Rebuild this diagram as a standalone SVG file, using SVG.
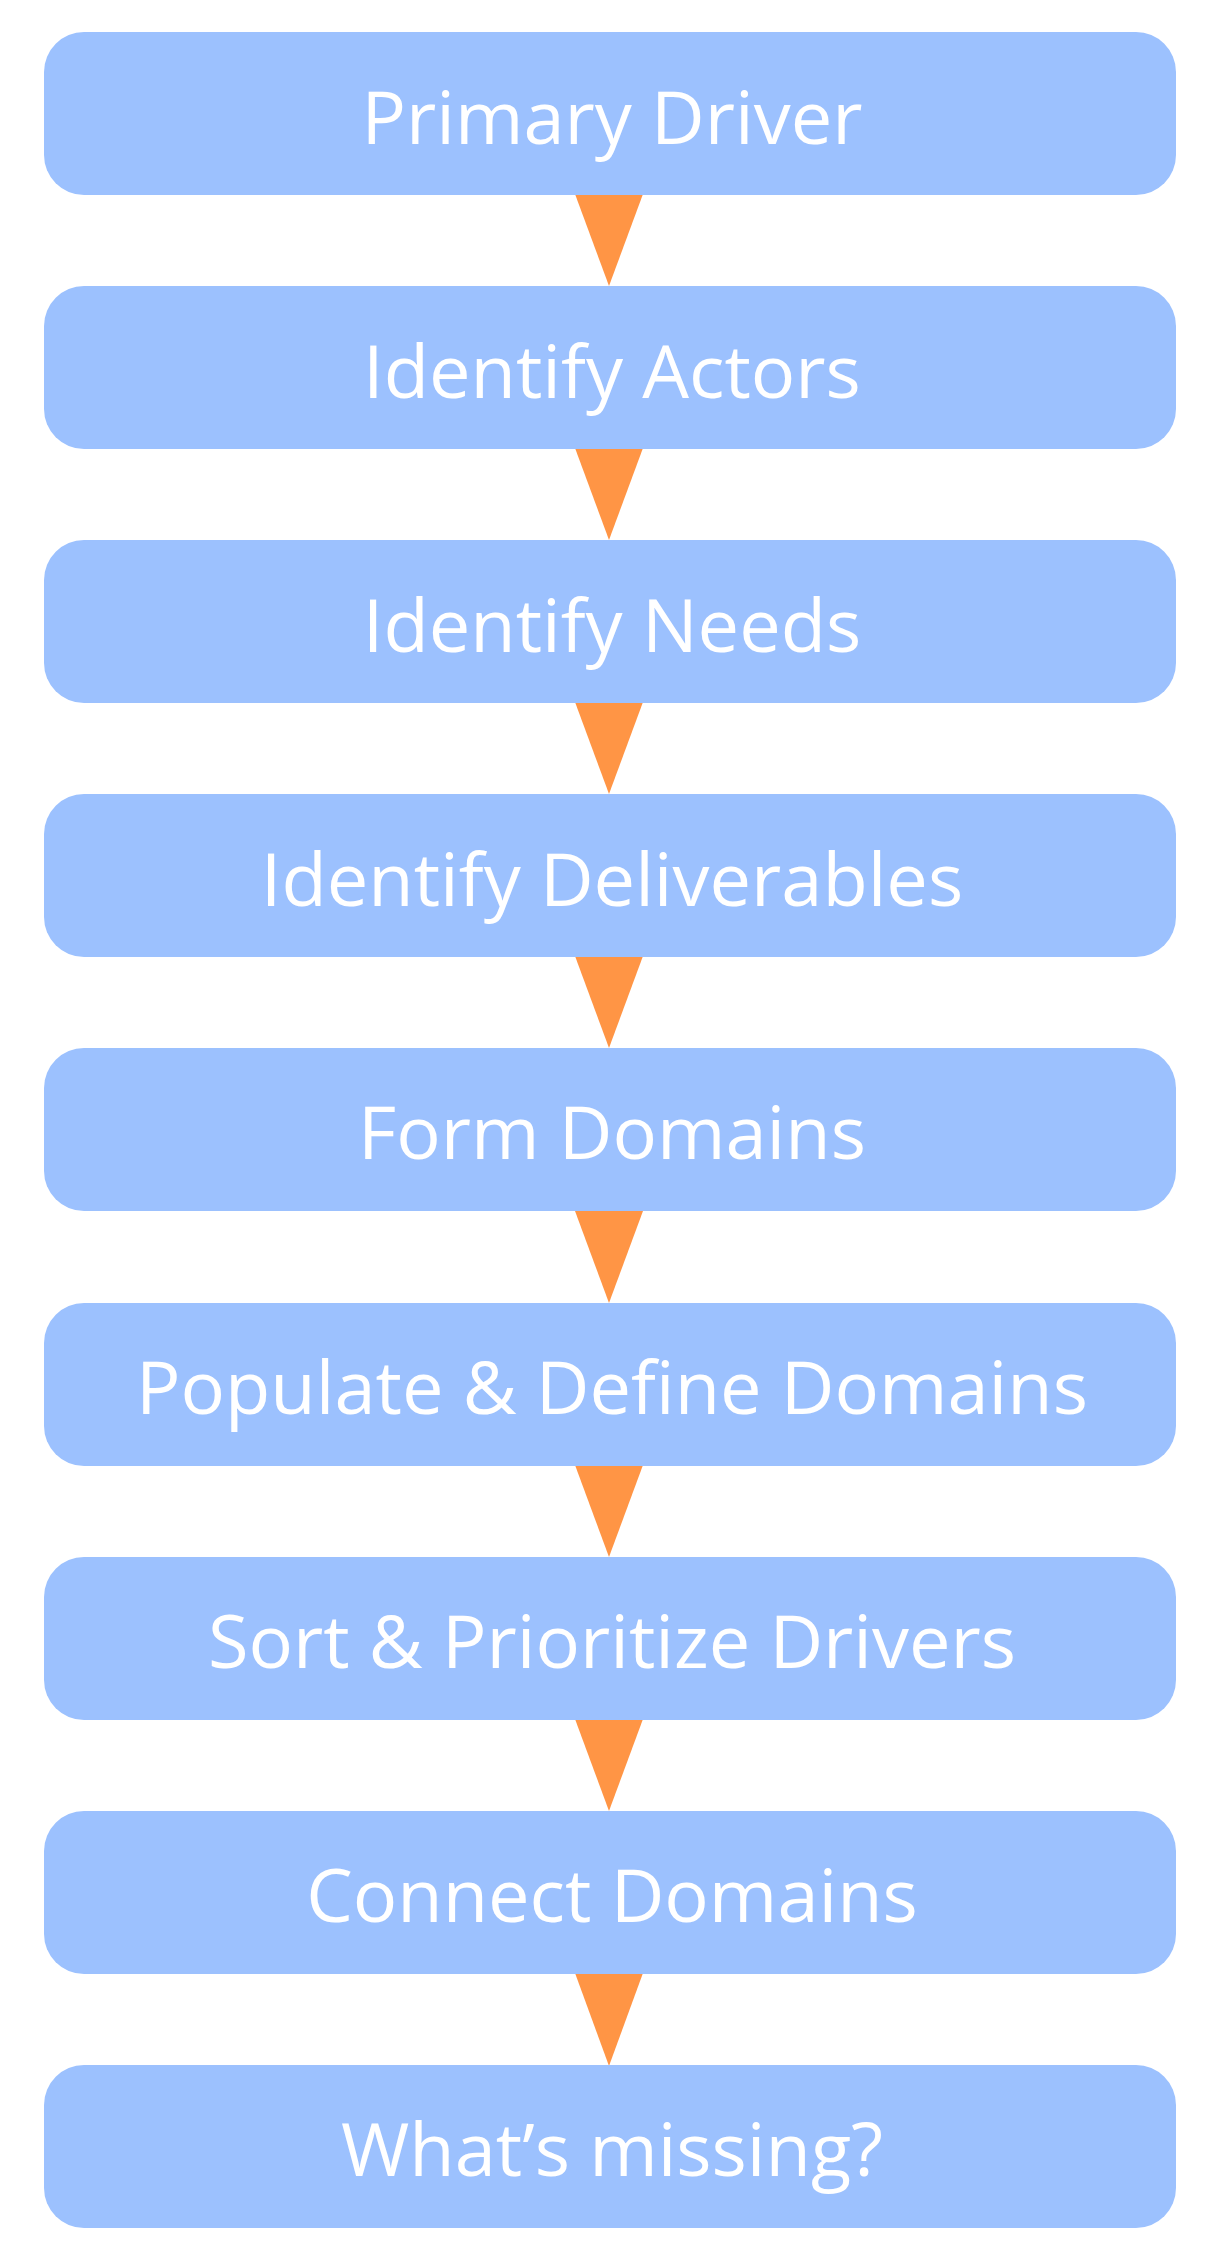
<svg xmlns="http://www.w3.org/2000/svg" width="1205" height="2255" viewBox="0 0 1205 2255">
  <style>
    .box { fill: #9cc1fe; }
    .lbl { fill: #ffffff; font-family: "Open Sans", "Liberation Sans", sans-serif; font-weight: 400; font-size: 74px; text-anchor: middle; }
    .arrow { fill: #ff9545; }
  </style>
  <rect width="1205" height="2255" fill="#ffffff"/>
  <!-- connectors: orange wedges between consecutive steps -->
  <g id="connectors">
    <polygon class="arrow" points="575,194 643,194 609,286"/>
    <polygon class="arrow" points="575,448 643,448 609,540"/>
    <polygon class="arrow" points="575,702 643,702 609,794"/>
    <polygon class="arrow" points="575,956 643,956 609,1048"/>
    <polygon class="arrow" points="575,1211 643,1211 609,1303"/>
    <polygon class="arrow" points="575,1465 643,1465 609,1557"/>
    <polygon class="arrow" points="575,1719 643,1719 609,1811"/>
    <polygon class="arrow" points="575,1973 643,1973 609,2066"/>
  </g>
  <g id="step1">
    <rect class="box" x="44" y="32" width="1132" height="163" rx="40" ry="40"/>
    <text class="lbl" x="612" y="144">Primary Driver</text>
  </g>
  <g id="step2">
    <rect class="box" x="44" y="286" width="1132" height="163" rx="40" ry="40"/>
    <text class="lbl" x="612" y="398">Identify Actors</text>
  </g>
  <g id="step3">
    <rect class="box" x="44" y="540" width="1132" height="163" rx="40" ry="40"/>
    <text class="lbl" x="612" y="652">Identify Needs</text>
  </g>
  <g id="step4">
    <rect class="box" x="44" y="794" width="1132" height="163" rx="40" ry="40"/>
    <text class="lbl" x="612" y="906">Identify Deliverables</text>
  </g>
  <g id="step5">
    <rect class="box" x="44" y="1048" width="1132" height="163" rx="40" ry="40"/>
    <text class="lbl" x="612" y="1159">Form Domains</text>
  </g>
  <g id="step6">
    <rect class="box" x="44" y="1303" width="1132" height="163" rx="40" ry="40"/>
    <text class="lbl" x="612" y="1414">Populate &amp; Define Domains</text>
  </g>
  <g id="step7">
    <rect class="box" x="44" y="1557" width="1132" height="163" rx="40" ry="40"/>
    <text class="lbl" x="612" y="1668">Sort &amp; Prioritize Drivers</text>
  </g>
  <g id="step8">
    <rect class="box" x="44" y="1811" width="1132" height="163" rx="40" ry="40"/>
    <text class="lbl" x="612" y="1922">Connect Domains</text>
  </g>
  <g id="step9">
    <rect class="box" x="44" y="2065" width="1132" height="163" rx="40" ry="40"/>
    <text class="lbl" x="612" y="2176">What’s missing?</text>
  </g>
</svg>
